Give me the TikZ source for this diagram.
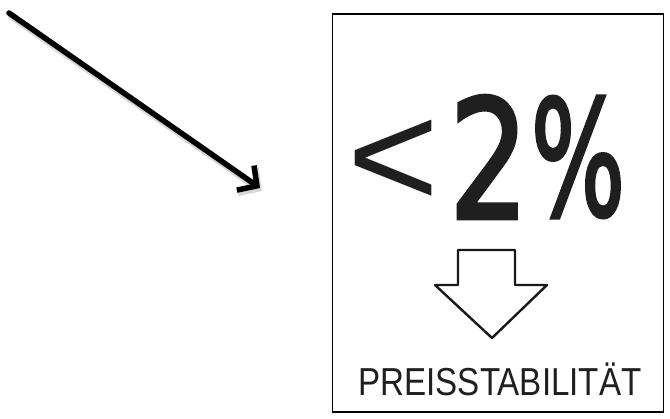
\documentclass[tikz,border=0pt]{standalone}
\usepackage{fontspec}
\setmainfont{DejaVu Sans}
\newfontfamily\figurefont[FakeBold=2.5]{DejaVu Sans}
\newfontfamily\labelfont{Liberation Sans}
\newfontfamily\thinfont{Liberation Sans}
\usetikzlibrary{arrows.meta}
\tikzset{
  frame/.style={draw=black, line width=1.8pt, inner sep=0pt},
  glyph/.style={inner sep=0pt, outer sep=0pt, text=black!88},
  pointer/.style={line width=5.5pt, black, line cap=round,
    -{Straight Barb[length=14pt, width=30pt, line width=5.5pt]}},
  pointershade/.style={line width=7pt, black!35, opacity=0.45, line cap=round,
    -{Straight Barb[length=14pt, width=30pt, line width=7pt]}},
  downarrow/.style={draw=black!90, line width=2.4pt, line join=round, fill=white},
}
\begin{document}
\begin{tikzpicture}[x=1pt, y=-1pt]
  \useasboundingbox[fill=white] (0,0) rectangle (670,419);

  % framed card
  \node[frame, minimum width=331pt, minimum height=398pt] (card) at (498,213) {};

  % pointer from the upper left towards the card
  \coordinate (from) at (9,13);
  \coordinate (tip) at (260,188);
  \draw[pointershade] ([shift={(2,3)}]from) -- ([shift={(2,3)}]tip);
  \draw[pointer] (from) -- (tip);

  % headline figure
  \node[glyph, font=\thinfont\fontsize{150}{150}\selectfont, xscale=1.05] (lt) at (393,164) {<};
  \node[glyph, font=\figurefont\fontsize{165}{165}\selectfont, xscale=0.76] (two) at (489,157) {2};
  \node[glyph, font=\figurefont\fontsize{160}{160}\selectfont, xscale=0.62] (pct) at (578,157) {\%};

  % hollow down arrow
  \draw[downarrow] (458,250) -- (515,250) -- (515,285) -- (547,285) -- (492,338)
    -- (435,285) -- (458,285) -- cycle;

  % caption
  \node[glyph, font=\labelfont\fontsize{39}{39}\selectfont, xscale=0.85] (caption) at (500,379) {PREISSTABILITÄT};
\end{tikzpicture}
\end{document}
